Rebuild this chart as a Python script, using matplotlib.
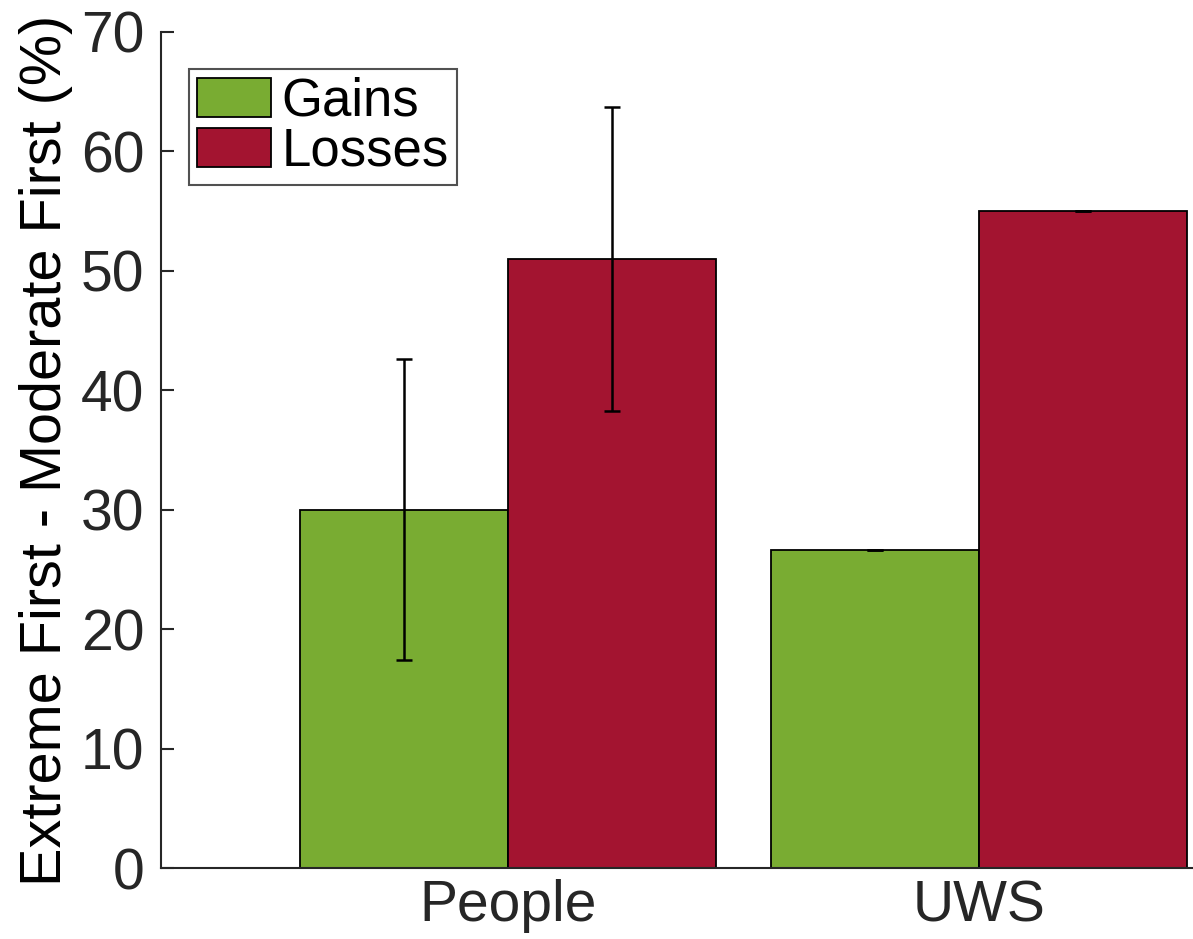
import matplotlib
matplotlib.use("Agg")
import matplotlib.pyplot as plt
import numpy as np

plt.rcParams['font.family'] = ['Liberation Sans', 'DejaVu Sans']

# Data
groups = ["People", "UWS"]
series = ["Gains", "Losses"]
gains = [30.0, 26.6]
losses = [51.0, 55.0]
gains_err = [12.6, 0.0]
losses_err = [12.7, 0.0]

green = "#79ac32"
red = "#a31430"
axis_grey = "#262626"

fig = plt.figure(figsize=(11.93, 9.39), dpi=100)
ax = fig.add_axes([0.135, 0.0756, 0.864, 0.8904])

x = np.arange(1, len(groups) + 1)
w = 0.4416
err_kw = dict(ecolor="black", elinewidth=1.8, capsize=6, capthick=1.8)

ax.bar(x - w / 2, gains, w, color=green, edgecolor="black", linewidth=1.3,
       label=series[0], yerr=gains_err, error_kw=err_kw, zorder=2)
ax.bar(x + w / 2, losses, w, color=red, edgecolor="black", linewidth=1.3,
       label=series[1], yerr=losses_err, error_kw=err_kw, zorder=2)

ax.set_xlim(0.263, 2.452)
ax.set_ylim(0, 70)
ax.set_yticks(np.arange(0, 71, 10))
ax.set_xticks(x)
ax.set_xticklabels(groups)

for s in ["top", "right"]:
    ax.spines[s].set_visible(False)
for s in ["left", "bottom"]:
    ax.spines[s].set_color(axis_grey)
    ax.spines[s].set_linewidth(1.5)

ax.tick_params(axis="y", direction="in", length=9, width=1.5, colors=axis_grey,
               labelsize=41, pad=12)
ax.tick_params(axis="x", length=0, colors=axis_grey, labelsize=41, pad=8)

ax.set_ylabel("Extreme First - Moderate First (%)", fontsize=41.5, color="black",
              labelpad=6)

leg = ax.legend(loc="upper left", bbox_to_anchor=(0.027, 0.956), borderaxespad=0,
                fontsize=38, fancybox=False, frameon=True, edgecolor=axis_grey,
                handlelength=1.41, handleheight=0.75, handletextpad=0.2,
                borderpad=0.15, labelspacing=0.0)
leg.get_frame().set_linewidth(1.5)
for h in leg.legend_handles:
    h.set_linewidth(1.3)

fig.savefig("out.png", dpi=100, facecolor="white")
